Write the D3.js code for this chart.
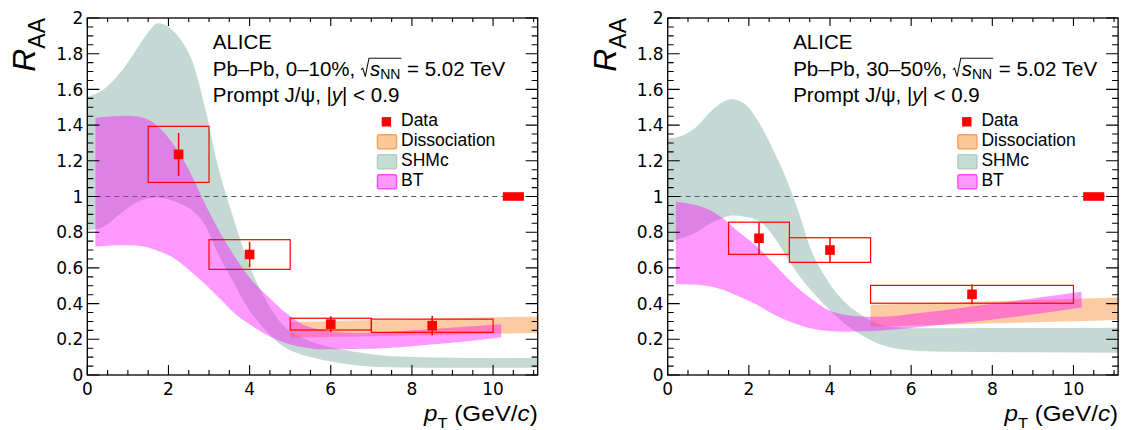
<!DOCTYPE html>
<html>
<head>
<meta charset="utf-8">
<script src="https://cdn.jsdelivr.net/npm/d3@7"></script>
<style>
body { margin: 0; background: #fff; }
svg { display: block; }
text { font-family: "Liberation Sans", Arial, sans-serif; fill: #000; white-space: pre; }
text.xl, text.yl { font-family: "DejaVu Sans", sans-serif; }
</style>
</head>
<body>
<svg id="chart" width="1121" height="430"></svg>
<script>
// axis labels
var xTickLabels = [0, 2, 4, 6, 8, 10];
var yTickLabels = [0, 0.2, 0.4, 0.6, 0.8, 1, 1.2, 1.4, 1.6, 1.8, 2];

// global normalisation uncertainty drawn at pT ~ 10.5
var normCenter = [10.5];
var normUnc = [0.024];

// ---- 0-10% ----
var ptC010 = [2.25, 4, 6, 8.5];
var binLoC010 = [1.5, 3, 5, 7];
var binHiC010 = [3, 5, 7, 10];
var raaC010 = [1.236, 0.675, 0.285, 0.276];
var statC010 = [0.12, 0.071, 0.044, 0.054];
var systC010 = [0.157, 0.083, 0.033, 0.037];

var shmcPtC010 = [0, 0.4, 0.8, 1.2, 1.5, 1.75, 2.0, 2.3, 2.6, 2.9, 3.2, 3.6, 4.0, 4.4, 4.8, 5.2, 5.6, 6.0, 6.6, 7.5, 9, 11.1];
var shmcHiC010 = [1.56, 1.6, 1.69, 1.82, 1.92, 1.97, 1.95, 1.88, 1.75, 1.5, 1.19, 0.88, 0.61, 0.42, 0.285, 0.22, 0.18, 0.155, 0.13, 0.105, 0.097, 0.094];
var shmcLoC010 = [0.81, 0.83, 0.9, 0.965, 0.99, 0.995, 0.985, 0.96, 0.92, 0.84, 0.69, 0.52, 0.36, 0.25, 0.165, 0.12, 0.095, 0.075, 0.055, 0.044, 0.041, 0.041];

var btPtC010 = [0.2, 0.6, 1.0, 1.4, 1.8, 2.1, 2.5, 2.9, 3.3, 3.6, 4.0, 4.5, 4.9, 5.3, 5.8, 6.6, 7.5, 8.4, 9.3, 10.2];
var btHiC010 = [1.44, 1.45, 1.453, 1.44, 1.38, 1.3, 1.15, 0.96, 0.787, 0.675, 0.545, 0.43, 0.347, 0.285, 0.253, 0.235, 0.243, 0.257, 0.27, 0.285];
var btLoC010 = [0.72, 0.725, 0.727, 0.72, 0.69, 0.66, 0.59, 0.51, 0.42, 0.352, 0.284, 0.216, 0.178, 0.156, 0.144, 0.145, 0.153, 0.17, 0.188, 0.21];

var dissPtC010 = [5, 7, 9, 11.1];
var dissHiC010 = [0.297, 0.307, 0.318, 0.328];
var dissLoC010 = [0.208, 0.217, 0.226, 0.235];

// ---- 30-50% ----
var ptC3050 = [2.25, 4, 7.5];
var binLoC3050 = [1.5, 3, 5];
var binHiC3050 = [3, 5, 10];
var raaC3050 = [0.766, 0.70, 0.452];
var statC3050 = [0.09, 0.07, 0.055];
var systC3050 = [0.09, 0.069, 0.05];

var shmcPtC3050 = [0, 0.4, 0.7, 1.1, 1.36, 1.58, 1.93, 2.26, 2.64, 3.0, 3.25, 3.52, 3.96, 4.4, 4.84, 5.28, 6.16, 7, 9, 11.1];
var shmcHiC3050 = [1.325, 1.345, 1.39, 1.485, 1.53, 1.545, 1.513, 1.41, 1.242, 1.055, 0.897, 0.71, 0.523, 0.4, 0.327, 0.28, 0.262, 0.262, 0.263, 0.265];
var shmcLoC3050 = [0.745, 0.77, 0.8, 0.855, 0.88, 0.893, 0.885, 0.862, 0.766, 0.636, 0.553, 0.478, 0.372, 0.28, 0.215, 0.168, 0.135, 0.13, 0.127, 0.125];

var btPtC3050 = [0.2, 0.53, 0.94, 1.36, 1.76, 2.2, 2.64, 3.08, 3.52, 3.96, 4.4, 4.84, 5.28, 6.16, 7.92, 10.2];
var btHiC3050 = [0.971, 0.96, 0.934, 0.878, 0.8, 0.72, 0.617, 0.514, 0.43, 0.364, 0.336, 0.327, 0.327, 0.346, 0.396, 0.467];
var btLoC3050 = [0.508, 0.507, 0.5, 0.478, 0.44, 0.393, 0.336, 0.293, 0.262, 0.247, 0.243, 0.245, 0.249, 0.267, 0.308, 0.378];

var dissPtC3050 = [5, 7, 9, 11.1];
var dissHiC3050 = [0.393, 0.406, 0.42, 0.434];
var dissLoC3050 = [0.271, 0.283, 0.295, 0.308];

var legendNames = ["Data", "Dissociation", "SHMc", "BT"];

var svg = d3.select("#chart");

var panelW = 450.4, plotTop = 18, plotBottom = 375;
var fontMain = 20.5, fontLeg = 17.5, fontTick = 17;

var colShmc = "rgba(60,130,110,0.3)";
var colBt = "rgba(255,0,255,0.4)";
var colDiss = "rgba(250,125,20,0.4)";

// draws pieces of text one after another, returns the width used
function richText(g, x, y, parts, size) {
    var cx = x;
    parts.forEach(function(p) {
        if (p.sqrt) {
            var rx = cx;
            cx += 9;
            var innerW = richText(g, cx, y, p.sqrt, size);
            cx += innerW;
            g.append("path")
                .attr("d", "M" + rx + "," + (y - 6) + "L" + (rx + 1.8) + "," + (y - 7.5)
                    + "L" + (rx + 4.3) + "," + (y + 1) + "L" + (rx + 8) + "," + (y - 17.5)
                    + "L" + (cx + 1) + "," + (y - 17.5))
                .attr("fill", "none").attr("stroke", "#111").attr("stroke-width", 1.1);
            cx += 1;
            return;
        }
        var s = size * (p.scale || 1);
        var t = g.append("text")
            .attr("x", cx)
            .attr("y", y + (p.dy || 0))
            .style("font-size", s + "px")
            .style("font-style", p.italic ? "italic" : "normal")
            .text(p.t);
        cx += t.node().getComputedTextLength();
    });
    return cx - x;
}

function drawPanel(x0, cfg) {
    var g = svg.append("g");
    var x = d3.scaleLinear().domain([0, 11.1]).range([x0, x0 + panelW]);
    var y = d3.scaleLinear().domain([0, 2]).range([plotBottom, plotTop]);

    // reference line at unity
    g.append("line")
        .attr("x1", x(0)).attr("x2", x(11.1))
        .attr("y1", y(1)).attr("y2", y(1))
        .attr("stroke", "#555").attr("stroke-width", 1)
        .attr("stroke-dasharray", "5,4");

    function band(pt, lo, hi, color) {
        var area = d3.area()
            .x(function(d, i) { return x(pt[i]); })
            .y0(function(d, i) { return y(lo[i]); })
            .y1(function(d, i) { return y(hi[i]); })
            .curve(d3.curveMonotoneX);
        g.append("path").attr("d", area(pt)).attr("fill", color);
    }
    band(cfg.shmcPt, cfg.shmcLo, cfg.shmcHi, colShmc);
    band(cfg.dissPt, cfg.dissLo, cfg.dissHi, colDiss);
    band(cfg.btPt, cfg.btLo, cfg.btHi, colBt);

    // systematic boxes
    g.selectAll("rect.syst")
        .data(cfg.pt).enter().append("rect")
        .attr("class", "syst")
        .attr("x", function(d, i) { return x(cfg.binLo[i]); })
        .attr("width", function(d, i) { return x(cfg.binHi[i]) - x(cfg.binLo[i]); })
        .attr("y", function(d, i) { return y(cfg.raa[i] + cfg.syst[i]); })
        .attr("height", function(d, i) { return y(cfg.raa[i] - cfg.syst[i]) - y(cfg.raa[i] + cfg.syst[i]); })
        .attr("fill", "none").attr("stroke", "#ff0000").attr("stroke-width", 1.2);

    // stat bars
    g.selectAll("line.stat")
        .data(cfg.pt).enter().append("line")
        .attr("class", "stat")
        .attr("x1", function(d) { return x(d); })
        .attr("x2", function(d) { return x(d); })
        .attr("y1", function(d, i) { return y(cfg.raa[i] + cfg.stat[i]); })
        .attr("y2", function(d, i) { return y(cfg.raa[i] - cfg.stat[i]); })
        .attr("stroke", "#ff0000").attr("stroke-width", 1.5);

    g.selectAll("rect.pt")
        .data(cfg.pt).enter().append("rect")
        .attr("class", "pt")
        .attr("x", function(d) { return x(d) - 4.8; })
        .attr("y", function(d, i) { return y(cfg.raa[i]) - 4.8; })
        .attr("width", 9.6).attr("height", 9.6)
        .attr("fill", "#ff0000");

    // normalisation box
    g.selectAll("rect.norm")
        .data(normCenter).enter().append("rect")
        .attr("class", "norm")
        .attr("x", function(d) { return x(d - 0.26); })
        .attr("width", function(d) { return x(d + 0.26) - x(d - 0.26); })
        .attr("y", function(d, i) { return y(1 + normUnc[i]); })
        .attr("height", function(d, i) { return y(1 - normUnc[i]) - y(1 + normUnc[i]); })
        .attr("fill", "#ff0000");

    // frame and ROOT style ticks on all four sides
    g.append("rect")
        .attr("x", x(0)).attr("y", plotTop)
        .attr("width", panelW).attr("height", plotBottom - plotTop)
        .attr("fill", "none").attr("stroke", "#000").attr("stroke-width", 1.3);

    var xMinor = d3.range(0, 11.1, 0.5);
    var yMinor = d3.range(0, 2.001, 0.05);
    var tickPath = "";
    xMinor.forEach(function(v) {
        var major = Math.abs(v / 2 - Math.round(v / 2)) < 1e-6;
        var lb = major ? 10 : 5, lt = major ? 8 : 4;
        tickPath += "M" + x(v) + "," + plotBottom + "v" + (-lb);
        tickPath += "M" + x(v) + "," + plotTop + "v" + lt;
    });
    yMinor.forEach(function(v) {
        var major = Math.abs(v / 0.2 - Math.round(v / 0.2)) < 1e-6;
        var l = major ? 12 : 6;
        tickPath += "M" + x(0) + "," + y(v) + "h" + l;
        tickPath += "M" + x(11.1) + "," + y(v) + "h" + (-l);
    });
    g.append("path").attr("d", tickPath).attr("stroke", "#000").attr("stroke-width", 1.1).attr("fill", "none");

    g.selectAll("text.xl")
        .data(xTickLabels).enter().append("text")
        .attr("class", "xl")
        .attr("x", function(d) { return x(d); })
        .attr("y", 395)
        .attr("text-anchor", "middle")
        .style("font-size", fontTick + "px")
        .text(function(d) { return d; });

    g.selectAll("text.yl")
        .data(yTickLabels).enter().append("text")
        .attr("class", "yl")
        .attr("x", x(0) - 4)
        .attr("y", function(d) { return y(d); })
        .attr("dy", "0.36em")
        .attr("text-anchor", "end")
        .style("font-size", fontTick + "px")
        .text(function(d) { return String(+d.toFixed(1)); });

    // axis titles
    var yt = g.append("text")
        .attr("transform", "translate(" + (x0 - 52) + "," + plotTop + ") rotate(-90)")
        .attr("text-anchor", "end");
    yt.append("tspan").style("font-size", "32px").style("font-style", "italic").text("R");
    yt.append("tspan").style("font-size", "23px").attr("dy", 10).text("AA");

    var xt = g.append("g");
    var w = richText(xt, 0, 421, [
        { t: "p", italic: true },
        { t: "T", scale: 0.68, dy: 7 },
        { t: " (GeV/" },
        { t: "c", italic: true },
        { t: ")" }
    ], 22);
    xt.attr("transform", "translate(" + (x0 + panelW - w * 1.1) + ",0) scale(1.1,1)");

    // labels
    var tx = x0 + 125.5;
    richText(g, tx, 49, [{ t: "ALICE" }], fontMain);
    richText(g, tx, 75.7, [
        { t: "Pb\u2013Pb, " + cfg.centrality + ", " },
        { sqrt: [{ t: "s", italic: true }, { t: "NN", scale: 0.68, dy: 3 }] },
        { t: " = 5.02 TeV" }
    ], fontMain);
    richText(g, tx, 102.3, [
        { t: "Prompt J/\u03c8, |" },
        { t: "y", italic: true },
        { t: "| < 0.9" }
    ], fontMain);

    // legend
    var lg = g.append("g");
    var lx = x0 + 289.4;
    var base = [125.7, 145.7, 165.7, 185.7];
    lg.append("rect")
        .attr("x", lx + 5).attr("y", base[0] - 8.6)
        .attr("width", 9.4).attr("height", 9.4)
        .attr("fill", "#ff0000");
    var boxFill = [null, "#fdc998", "#c5dcd5", "#ff99ff"];
    var boxLine = [null, "#f6a55e", "#b1cdc5", "#ff4dff"];
    for (var i = 1; i < 4; i++) {
        lg.append("rect")
            .attr("x", lx + 0.8).attr("y", base[i] - 11)
            .attr("width", 19).attr("height", 14)
            .attr("rx", 1.5)
            .attr("fill", boxFill[i]).attr("stroke", boxLine[i]).attr("stroke-width", 1.5);
    }
    lg.selectAll("text.leg")
        .data(legendNames).enter().append("text")
        .attr("class", "leg")
        .attr("x", x0 + 313.7)
        .attr("y", function(d, i) { return base[i]; })
        .style("font-size", fontLeg + "px")
        .text(function(d) { return d; });
}

drawPanel(87.3, {
    centrality: "0\u201310%",
    pt: ptC010, binLo: binLoC010, binHi: binHiC010,
    raa: raaC010, stat: statC010, syst: systC010,
    shmcPt: shmcPtC010, shmcLo: shmcLoC010, shmcHi: shmcHiC010,
    btPt: btPtC010, btLo: btLoC010, btHi: btHiC010,
    dissPt: dissPtC010, dissLo: dissLoC010, dissHi: dissHiC010
});

drawPanel(667.7, {
    centrality: "30\u201350%",
    pt: ptC3050, binLo: binLoC3050, binHi: binHiC3050,
    raa: raaC3050, stat: statC3050, syst: systC3050,
    shmcPt: shmcPtC3050, shmcLo: shmcLoC3050, shmcHi: shmcHiC3050,
    btPt: btPtC3050, btLo: btLoC3050, btHi: btHiC3050,
    dissPt: dissPtC3050, dissLo: dissLoC3050, dissHi: dissHiC3050
});
</script>
</body>
</html>
